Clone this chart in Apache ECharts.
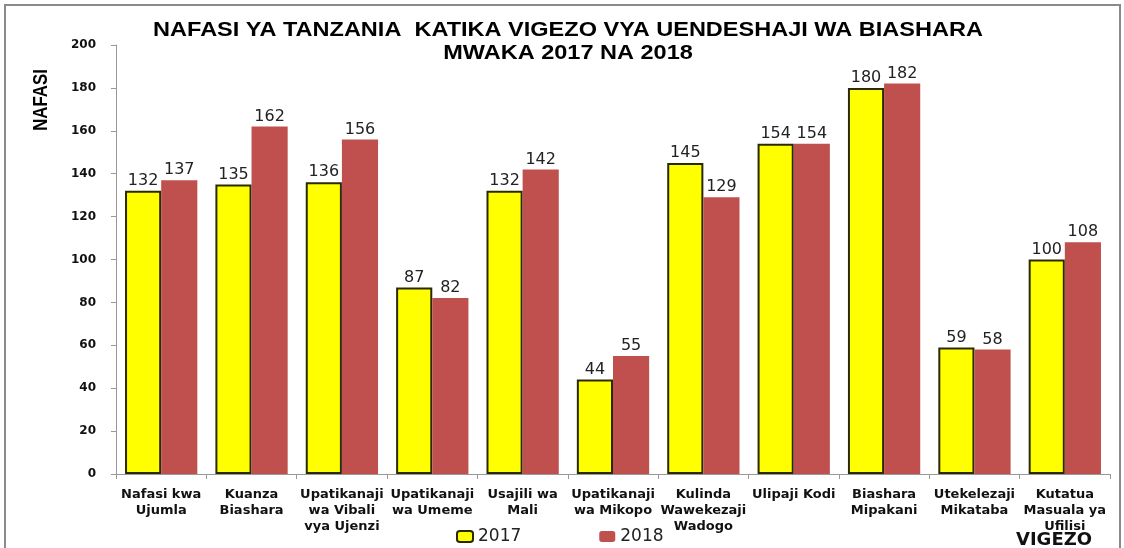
<!DOCTYPE html>
<html>
<head>
<meta charset="utf-8">
<script src="https://cdn.jsdelivr.net/npm/echarts@6/dist/echarts.min.js"></script>
<style>
  html, body {margin: 0; padding: 0; background: #fff;}
  #main {width: 1124px; height: 548px;}
</style>
</head>
<body>
<div id="main"></div>
<script>
// vigezo (categories)
var vigezo = ['Nafasi kwa\nUjumla', 'Kuanza\nBiashara', 'Upatikanaji\nwa Vibali\nvya Ujenzi', 'Upatikanaji\nwa Umeme',
    'Usajili wa\nMali', 'Upatikanaji\nwa Mikopo', 'Kulinda\nWawekezaji\nWadogo', 'Ulipaji Kodi',
    'Biashara\nMipakani', 'Utekelezaji\nMikataba', 'Kutatua\nMasuala ya\nUfilisi']
// nafasi kwa kila mwaka
var nafasi2017 = [132, 135, 136, 87, 132, 44, 145, 154, 180, 59, 100]
var nafasi2018 = [137, 162, 156, 82, 142, 55, 129, 154, 182, 58, 108]

var titleLines = ['NAFASI YA TANZANIA  KATIKA VIGEZO VYA UENDESHAJI WA BIASHARA', 'MWAKA 2017 NA 2018']

var myChart = echarts.init(document.getElementById('main'))

var labelStyle = {
    show: true,
    position: 'top',
    distance: 2,
    fontFamily: 'DejaVu Sans',
    fontSize: 16,
    color: '#222'
}

// kichwa - maandishi yamevutwa kidogo kwa upana kama kwenye picha
function titleText(txt, y) {
    return {
        type: 'text',
        x: 568,
        y: y,
        scaleX: 1.12,
        style: {
            text: txt,
            fill: '#000',
            font: 'bold 21px "Liberation Sans", Arial',
            textAlign: 'center',
            textVerticalAlign: 'middle'
        }
    }
}

var option = {
    animation: false,
    backgroundColor: '#fff',
    legend: {
        bottom: -2,
        left: 451,
        itemGap: 78,
        itemWidth: 16,
        itemHeight: 11,
        textStyle: {fontFamily: 'DejaVu Sans', fontSize: 17, color: '#222'},
        data: ['2017', '2018']
    },
    grid: {left: 116, right: 14, top: 45, bottom: 74},
    xAxis: {
        type: 'category',
        data: vigezo,
        axisLine: {lineStyle: {color: '#999'}},
        axisTick: {show: true, length: 5, lineStyle: {color: '#999'}},
        axisLabel: {
            interval: 0,
            margin: 13,
            fontFamily: 'DejaVu Sans',
            fontWeight: 'bold',
            fontSize: 13,
            lineHeight: 16,
            color: '#111'
        }
    },
    yAxis: {
        type: 'value',
        min: 0,
        max: 200,
        interval: 20,
        splitLine: {show: false},
        axisLine: {show: true, lineStyle: {color: '#999'}},
        axisTick: {show: true, length: 5, lineStyle: {color: '#999'}},
        axisLabel: {
            margin: 20,
            fontFamily: 'DejaVu Sans',
            fontWeight: 'bold',
            fontSize: 12,
            color: '#111'
        }
    },
    graphic: [
        {
            type: 'rect',
            shape: {x: 5, y: 5, width: 1115, height: 560},
            style: {fill: 'none', stroke: '#8a8a8a', lineWidth: 2},
            silent: true
        },
        titleText(titleLines[0], 30),
        titleText(titleLines[1], 53),
        {
            type: 'text',
            x: 41,
            y: 100,
            rotation: Math.PI / 2,
            scaleX: 0.8,
            style: {
                text: 'NAFASI',
                fill: '#000',
                font: 'bold 21px "Liberation Sans", Arial',
                textAlign: 'center',
                textVerticalAlign: 'middle'
            }
        },
        {
            type: 'text',
            x: 1054,
            y: 540,
            style: {
                text: 'VIGEZO',
                fill: '#111',
                font: 'bold 18px "DejaVu Sans"',
                textAlign: 'center',
                textVerticalAlign: 'middle'
            }
        }
    ],
    series: [
        {
            name: '2017',
            type: 'bar',
            data: nafasi2017,
            barWidth: '40%',
            barGap: '0%',
            itemStyle: {color: '#FFFF00', borderColor: '#2a2a00', borderWidth: 2},
            label: labelStyle
        },
        {
            name: '2018',
            type: 'bar',
            data: nafasi2018,
            barWidth: '40%',
            itemStyle: {color: '#C0504D'},
            label: labelStyle
        }
    ]
}

myChart.setOption(option)
</script>
</body>
</html>
